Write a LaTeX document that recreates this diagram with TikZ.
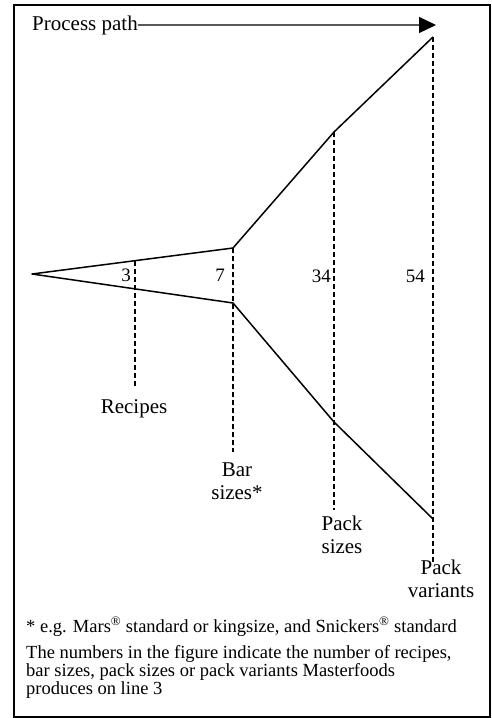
\documentclass[tikz,border=0pt]{standalone}
\usepackage{fontspec}
\setmainfont{Liberation Serif}
\usetikzlibrary{arrows.meta}
\begin{document}
\begin{tikzpicture}[x=1pt,y=-1pt,
  solidline/.style={line width=1.5pt, line join=round},
  dashline/.style={line width=1.5pt, dash pattern=on 5pt off 3pt},
  lbl/.style={font=\fontsize{21}{23}\selectfont, inner sep=0pt, align=center},
  num/.style={font=\fontsize{19}{21}\selectfont, inner sep=0pt, anchor=base east},
  note/.style={font=\fontsize{18.5}{15.5}\selectfont, inner sep=0pt, anchor=base west, align=left}]
\useasboundingbox (0,0) rectangle (491,718);
\draw[line width=1.5pt] (14,5) rectangle (490,717);
% process path arrow
\node[lbl, anchor=base west] (pp) at (32,30) {Process path};
\coordinate (tip) at (436,25);
\draw[line width=1.4pt, -{Triangle[length=17pt,width=16pt]}] (pp.east) -- (tip);
% funnel points
\coordinate (apex) at (32,274);
\coordinate (u1) at (135,261);
\coordinate (u2) at (233,248);
\coordinate (u3) at (334,132);
\coordinate (u4) at (433,37);
\coordinate (l2) at (233,303);
\coordinate (l3) at (334,422);
\coordinate (l4) at (433,519);
\draw[solidline] (u4) -- (u3) -- (u2) -- (apex) -- (l2) -- (l3) -- (l4);
% dashed stage lines
\coordinate (d1) at (135,387);
\coordinate (d2) at (233,452);
\coordinate (d3) at (334,510);
\coordinate (d4) at (433,565);
\draw[dashline] (u1) -- (d1);
\draw[dashline] (u2) -- (d2);
\draw[dashline] (u3) -- (d3);
\draw[dashline] (u4) -- (d4);
% numbers
\node[num] (n1) at (131,281) {3};
\node[num] (n2) at (225,281) {7};
\node[num] (n3) at (331,282) {34};
\node[num] (n4) at (425,282) {54};
% stage labels (base = last line)
\node[lbl, anchor=base] (recipes) at (134,413) {Recipes};
\node[lbl, anchor=base] (barsizes) at (237,499) {Bar\\sizes*};
\node[lbl, anchor=base] (packsizes) at (342,553) {Pack\\sizes};
\node[lbl, anchor=base] (packvar) at (441,597) {Pack\\variants};
% notes
\node[note] (fn) at (26,632) {* e.g. Mars\textsuperscript{®} standard or kingsize, and Snickers\textsuperscript{®} standard};
\node[note] (expl) at (26,694) {The numbers in the figure indicate the number of recipes,\\bar sizes, pack sizes or pack variants Masterfoods\\produces on line 3};
\end{tikzpicture}
\end{document}
